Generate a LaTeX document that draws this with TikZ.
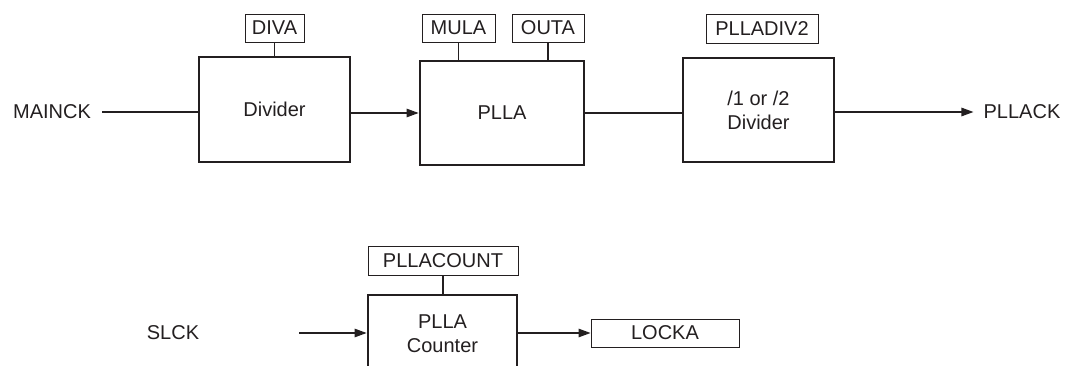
\documentclass[tikz,border=0pt]{standalone}
\usepackage{fontspec}
\setmainfont{Liberation Sans}
\usetikzlibrary{arrows.meta}
\definecolor{ink}{HTML}{231F20}
\begin{document}
\begin{tikzpicture}[x=1pt,y=-1pt,
  every node/.style={font=\fontsize{20}{24}\selectfont, text=ink},
  blockbox/.style={draw=ink, line width=2.8pt, inner sep=0pt, align=center},
  regbox/.style={draw=ink, line width=0.9pt, inner sep=0pt},
  plain/.style={inner sep=0pt, align=center},
  wire/.style={draw=ink, line width=1.2pt},
  arr/.style={wire, -{Triangle[length=12pt,width=8.5pt]}}]
\useasboundingbox (0,0) rectangle (1066,366);
\clip (0,0) rectangle (1066,366);
% top row blocks
\node[blockbox, minimum width=151, minimum height=105] (div) at (274.5,109.5) {Divider};
\node[blockbox, minimum width=164, minimum height=104] (pll) at (502,113) {PLLA};
\node[blockbox, minimum width=151, minimum height=104] (dv2) at (758.5,110) {/1 or /2\\Divider};
% registers
\node[regbox, minimum width=59, minimum height=28] (diva) at (274.5,28) {DIVA};
\node[regbox, minimum width=73, minimum height=28] (mula) at (458.5,28) {MULA};
\node[regbox, minimum width=72, minimum height=28] (outa) at (548,28) {OUTA};
\node[regbox, minimum width=112, minimum height=29] (plldiv) at (762,28.5) {PLLADIV2};
% signals
\node[plain, inner xsep=11pt] (mainck) at (52,112) {MAINCK};
\node[plain, inner xsep=10pt] (pllack) at (1022,112) {PLLACK};
% bottom row
\node[regbox, minimum width=150, minimum height=29] (pc) at (443,260.5) {PLLACOUNT};
\node[blockbox, minimum width=149, minimum height=90] (cnt) at (442.5,340) {};
\node[plain] (cnttext) at (442.5,334) {PLLA\\Counter};
\node[regbox, minimum width=148, minimum height=28] (locka) at (665,333) {LOCKA};
\node[plain] (slck) at (173,333) {SLCK};
\coordinate (slckend) at (299,333);
% connectors
\draw[wire] (mainck.east) -- (mainck.east -| div.west);
\draw[arr] (pll.west -| div.east) -- (pll.west);
\draw[wire] (pll.east) -- (pll.east -| dv2.west);
\draw[arr] (dv2.east |- pllack.west) -- (pllack.west);
\draw[wire] (diva.south) -- (diva.south |- div.north);
\draw[wire] (mula.south) -- (mula.south |- pll.north);
\draw[wire] (outa.south) -- (outa.south |- pll.north);
\draw[wire] (pc.south) -- (pc.south |- cnt.north);
\draw[arr] (slckend) -- (slckend -| cnt.west);
\draw[arr] (cnt.east |- locka.west) -- (locka.west);
\end{tikzpicture}
\end{document}
